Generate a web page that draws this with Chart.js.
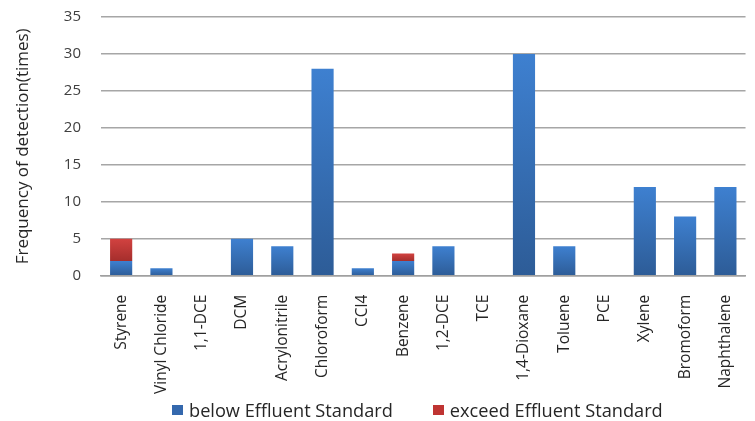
<!DOCTYPE html>
<html>
<head>
<meta charset="utf-8">
<script src="https://cdn.jsdelivr.net/npm/chart.js@4.4.1/dist/chart.umd.min.js"></script>
<style>
  html, body { margin: 0; padding: 0; background: #fff; }
  #wrap { position: relative; width: 755px; height: 421px; overflow: hidden; }
  #legend {
    position: absolute; left: 172px; top: 398px;
    display: flex; align-items: center;
    font: 18.2px 'Open Sans', 'DejaVu Sans', sans-serif; color: #262626;
    white-space: nowrap;
  }
  #legend .item { display: flex; align-items: center; margin-right: 40px; }
  #legend .swatch { width: 11px; height: 10px; margin-right: 6px; }
</style>
</head>
<body>
<div id="wrap">
  <canvas id="detectChart"></canvas>
  <div id="legend"></div>
</div>
<script>
const compounds = ['Styrene', 'Vinyl Chloride', '1,1-DCE', 'DCM', 'Acrylonitrile', 'Chloroform', 'CCl4',
  'Benzene', '1,2-DCE', 'TCE', '1,4-Dioxane', 'Toluene', 'PCE', 'Xylene', 'Bromoform', 'Naphthalene'];
const belowStd = [2, 1, 0, 5, 4, 28, 1, 2, 4, 0, 30, 4, 0, 12, 8, 12];
const exceedStd = [3, 0, 0, 0, 0, 0, 0, 1, 0, 0, 0, 0, 0, 0, 0, 0];
const yTicks = [0, 5, 10, 15, 20, 25, 30, 35];

const FONT = "'Open Sans', 'DejaVu Sans', sans-serif";

// each bar gets its own vertical gradient, lighter at the top
function barGradient(light, dark, baseOf, topOf) {
  return function (ctx) {
    const chart = ctx.chart;
    const ys = chart.scales.y;
    if (!chart.chartArea || !ys || ctx.type !== 'data') return light;
    const i = ctx.dataIndex;
    const y0 = ys.getPixelForValue(baseOf(i));
    const y1 = ys.getPixelForValue(topOf(i));
    if (!isFinite(y0) || !isFinite(y1) || y0 === y1) return light;
    const g = chart.ctx.createLinearGradient(0, y1, 0, y0);
    g.addColorStop(0, light);
    g.addColorStop(1, dark);
    return g;
  };
}

const chart = new Chart(document.getElementById('detectChart'), {
  type: 'bar',
  data: {
    labels: compounds,
    datasets: [
      {
        label: 'below Effluent Standard',
        data: belowStd,
        backgroundColor: barGradient('#3e80d0', '#2d5c97', i => 0, i => belowStd[i]),
        swatch: '#3468ad',
        borderWidth: 0,
        barPercentage: 0.55,
        categoryPercentage: 1
      },
      {
        label: 'exceed Effluent Standard',
        data: exceedStd,
        backgroundColor: barGradient('#d24240', '#a52e2c', i => belowStd[i], i => belowStd[i] + exceedStd[i]),
        swatch: '#bf3432',
        borderWidth: 0,
        barPercentage: 0.55,
        categoryPercentage: 1
      }
    ]
  },
  options: {
    responsive: true,
    maintainAspectRatio: false,
    animation: false,
    layout: { padding: { top: 0, right: -6, left: 13, bottom: 16 } },
    plugins: {
      tooltip: { enabled: false },
      legend: { display: false }
    },
    scales: {
      x: {
        stacked: true,
        grid: { display: false },
        border: { display: true, color: '#a0a0a0', width: 1.5 },
        ticks: {
          autoSkip: false,
          minRotation: 90,
          maxRotation: 90,
          padding: 11,
          color: '#262626',
          font: { family: FONT, size: 15.5 }
        }
      },
      y: {
        stacked: true,
        min: 0,
        max: 35,
        afterBuildTicks: axis => { axis.ticks = yTicks.map(v => ({ value: v })); },
        afterFit: axis => {
          axis.width = 88;
          axis.paddingTop = 17;
          axis.paddingBottom = 8;
        },
        grid: { color: '#a6a6a6', lineWidth: 1.5, drawTicks: false },
        border: { display: false },
        ticks: {
          padding: 20,
          color: '#404040',
          font: { family: FONT, size: 15 }
        },
        title: {
          display: true,
          text: 'Frequency of detection(times)',
          color: '#262626',
          padding: { bottom: 0, top: 0 },
          font: { family: FONT, size: 17 }
        }
      }
    }
  }
});

// legend row under the axis labels
const legendEl = document.getElementById('legend');
chart.data.datasets.forEach(ds => {
  const item = document.createElement('div');
  item.className = 'item';
  const sw = document.createElement('span');
  sw.className = 'swatch';
  sw.style.background = ds.swatch;
  const txt = document.createElement('span');
  txt.textContent = ds.label;
  item.appendChild(sw);
  item.appendChild(txt);
  legendEl.appendChild(item);
});
</script>
</body>
</html>
